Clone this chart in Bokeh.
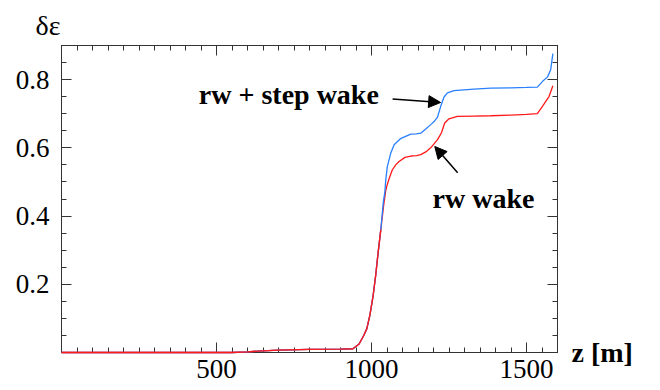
from bokeh.plotting import figure
from bokeh.models import (LinearAxis, FixedTicker, Label, Arrow, NormalHead, Range1d)
from bokeh.embed import file_html
from bokeh.resources import INLINE

# ---- data ----
z_rw = [0, 550, 600, 650, 700, 800, 900, 940, 960, 975, 985, 995, 1005, 1014, 1021,
        1030, 1039, 1046, 1050, 1057, 1067, 1078, 1089, 1108, 1127, 1145, 1159, 1175,
        1191, 1203, 1213, 1220, 1226, 1236, 1250, 1277, 1330, 1385, 1450, 1500, 1535,
        1552, 1573, 1585]
eps_rw = [0, 0, 0.002, 0.005, 0.007, 0.009, 0.010, 0.011, 0.025, 0.05, 0.07, 0.11, 0.165,
          0.23, 0.29, 0.36, 0.43, 0.475, 0.49, 0.51, 0.535, 0.55, 0.56, 0.572, 0.576,
          0.577, 0.58, 0.588, 0.60, 0.613, 0.624, 0.635, 0.645, 0.673, 0.685, 0.692,
          0.693, 0.694, 0.696, 0.698, 0.700, 0.722, 0.751, 0.782]

z_step = [0, 550, 600, 650, 700, 800, 900, 940, 960, 975, 985, 995, 1005, 1014, 1021,
          1030, 1038, 1043, 1046, 1051, 1062, 1073, 1095, 1127, 1145, 1159, 1175, 1191,
          1203, 1213, 1223, 1234, 1245, 1266, 1330, 1385, 1450, 1500, 1535, 1552, 1568,
          1578, 1585]
eps_step = [0, 0, 0.002, 0.005, 0.007, 0.009, 0.010, 0.011, 0.025, 0.05, 0.07, 0.11, 0.165,
            0.23, 0.29, 0.36, 0.44, 0.47, 0.506, 0.545, 0.584, 0.609, 0.628, 0.640, 0.641,
            0.643, 0.655, 0.668, 0.678, 0.690, 0.721, 0.749, 0.761, 0.768, 0.772, 0.775,
            0.776, 0.777, 0.778, 0.795, 0.808, 0.829, 0.876]

x_major = [500, 1000, 1500]
x_minor = list(range(0, 1601, 50))
y_major = [0.2, 0.4, 0.6, 0.8]
y_minor = [round(0.05 * i, 2) for i in range(0, 19)]

FONT = "Liberation Serif"
FS = "27px"

p = figure(width=660, height=390, output_backend="svg", toolbar_location=None,
           x_range=Range1d(0, 1600), y_range=Range1d(0, 0.9),
           x_axis_type=None, y_axis_type=None,
           min_border_left=61, min_border_right=103, min_border_top=45, min_border_bottom=38)
p.grid.visible = False
p.outline_line_color = "#333333"
p.outline_line_width = 1
p.background_fill_color = "white"
p.border_fill_color = "white"

# y-axis symbol as a title, placed left of the frame
p.title.text = "δε"
p.title.align = "left"
p.title.offset = -26
p.title.standoff = 9
p.title.text_font = FONT
p.title.text_font_size = "28px"
p.title.text_font_style = "normal"
p.title.text_color = "black"


def style(ax, labels):
    ax.major_tick_in = 10
    ax.major_tick_out = 0
    ax.minor_tick_in = 5
    ax.minor_tick_out = 0
    ax.axis_line_color = "#333333"
    ax.major_tick_line_color = "#333333"
    ax.minor_tick_line_color = "#333333"
    ax.major_label_text_font = FONT
    ax.major_label_text_color = "black"
    if labels:
        ax.major_label_text_font_size = FS
    else:
        ax.major_label_text_font_size = "0px"
        ax.major_label_text_alpha = 0


xb = LinearAxis(ticker=FixedTicker(ticks=x_major, minor_ticks=x_minor))
style(xb, True)
xb.major_label_standoff = 7
p.add_layout(xb, "below")
xt = LinearAxis(ticker=FixedTicker(ticks=x_major, minor_ticks=x_minor))
style(xt, False)
p.add_layout(xt, "above")
yl = LinearAxis(ticker=FixedTicker(ticks=y_major, minor_ticks=y_minor))
style(yl, True)
yl.major_label_standoff = 12
p.add_layout(yl, "left")
yr = LinearAxis(ticker=FixedTicker(ticks=y_major, minor_ticks=y_minor))
style(yr, False)
p.add_layout(yr, "right")

# x-axis name, written beside the frame at the bottom-right corner
zlab = LinearAxis(ticker=FixedTicker(ticks=[0], minor_ticks=[]),
                  major_label_overrides={0: "z [m]"})
zlab.axis_line_color = None
zlab.major_tick_line_color = None
zlab.minor_tick_line_color = None
zlab.major_tick_in = 0
zlab.major_tick_out = 0
zlab.major_label_standoff = 14
zlab.major_label_text_font = FONT
zlab.major_label_text_font_size = "28px"
zlab.major_label_text_font_style = "bold"
zlab.major_label_text_color = "black"
p.add_layout(zlab, "right")

p.line(z_rw, eps_rw, line_color="#ff1a1a", line_width=1.3, level="overlay")
p.line(z_step, eps_step, line_color="#2a7fff", line_width=1.3, level="overlay")
p.line(z_rw[:16], eps_rw[:16], line_color="#ff1a1a", line_width=1.3, level="overlay")

# annotations
p.add_layout(Label(x=443, y=0.756, text="rw + step wake", text_font=FONT,
                   text_font_size="28px", text_font_style="bold", text_color="black",
                   text_baseline="alphabetic"))
p.add_layout(Label(x=1197, y=0.452, text="rw wake", text_font=FONT,
                   text_font_size="28px", text_font_style="bold", text_color="black",
                   text_baseline="alphabetic"))
p.add_layout(Arrow(x_start=1068, y_start=0.743, x_end=1223, y_end=0.733, line_width=1.5,
                   end=NormalHead(size=12, fill_color="black", line_color="black")))
p.add_layout(Arrow(x_start=1278, y_start=0.527, x_end=1204, y_end=0.604, line_width=1.5,
                   end=NormalHead(size=12, fill_color="black", line_color="black")))

open("out.html", "w").write(file_html(p, INLINE))
